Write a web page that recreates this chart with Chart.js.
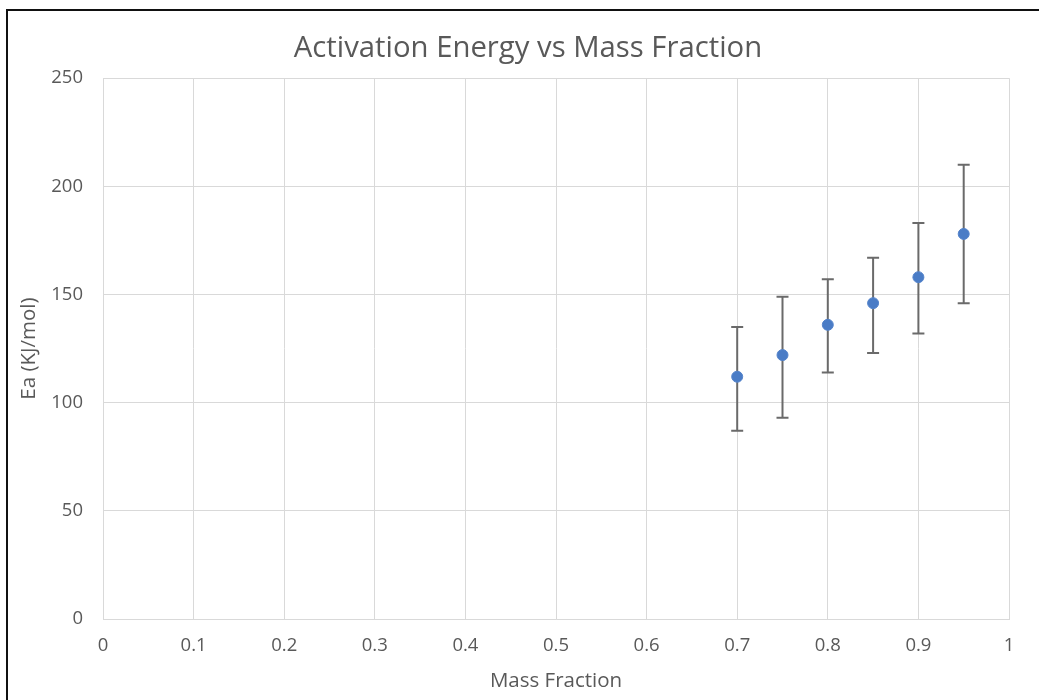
<!DOCTYPE html>
<html>
<head>
<meta charset="utf-8">
<script src="https://cdn.jsdelivr.net/npm/chart.js@4.4.1/dist/chart.umd.min.js"></script>
<style>
  html, body { margin: 0; padding: 0; background: #fff; }
  #wrap { position: relative; width: 1039px; height: 700px; overflow: hidden; }
  #frame { position: absolute; left: 6px; top: 9px; right: -10px; bottom: -10px; border-left: 2px solid #111; border-top: 2px solid #111; pointer-events: none; }
  canvas { position: absolute; left: 0; top: 0; }
</style>
</head>
<body>
<div id="wrap">
  <canvas id="chart" width="1039" height="700"></canvas>
  <div id="frame"></div>
</div>
<script>
  const massFraction = [0.7, 0.75, 0.8, 0.85, 0.9, 0.95];
  const ea = [112, 122, 136, 146, 158, 178];
  const eaUpper = [135, 149, 157, 167, 183, 210];
  const eaLower = [87, 93, 114, 123, 132, 146];
  const xTicks = [0, 0.1, 0.2, 0.3, 0.4, 0.5, 0.6, 0.7, 0.8, 0.9, 1];
  const yTicks = [0, 50, 100, 150, 200, 250];

  const grey = "#595959";
  const font = "'Open Sans', sans-serif";

  // vertical error bars with caps, drawn under the markers
  const errorBars = {
    id: "errorBars",
    beforeDatasetsDraw(chart) {
      const { ctx, scales: { x, y } } = chart;
      ctx.save();
      ctx.strokeStyle = "#6a6a6a";
      ctx.lineWidth = 2;
      massFraction.forEach((m, i) => {
        const px = x.getPixelForValue(m);
        const top = y.getPixelForValue(eaUpper[i]);
        const bot = y.getPixelForValue(eaLower[i]);
        ctx.beginPath();
        ctx.moveTo(px, top); ctx.lineTo(px, bot);
        ctx.moveTo(px - 6, top); ctx.lineTo(px + 6, top);
        ctx.moveTo(px - 6, bot); ctx.lineTo(px + 6, bot);
        ctx.stroke();
      });
      ctx.restore();
    }
  };

  new Chart(document.getElementById("chart"), {
    type: "scatter",
    data: {
      datasets: [{
        data: massFraction.map((m, i) => ({ x: m, y: ea[i] })),
        backgroundColor: "#4a7cc6",
        borderColor: "#5584cb",
        borderWidth: 1,
        pointRadius: 5.5,
        pointHoverRadius: 5.5
      }]
    },
    options: {
      responsive: false,
      animation: false,
      layout: { padding: { left: 17, right: 0, top: 0, bottom: 6.7 } },
      plugins: {
        legend: { display: false },
        tooltip: { enabled: false },
        title: {
          display: true,
          text: "Activation Energy vs Mass Fraction",
          color: grey,
          font: { family: font, size: 29.3, weight: "normal" },
          padding: { top: 31, bottom: 12 }
        }
      },
      scales: {
        x: {
          type: "linear",
          min: 0, max: 1,
          afterBuildTicks: s => { s.ticks = xTicks.map(v => ({ value: v })); },
          afterFit: s => { s.height = 74.3; },
          ticks: {
            color: grey, padding: 16,
            font: { family: font, size: 18.5 },
            callback: v => String(+v.toFixed(2))
          },
          grid: { color: "#d9d9d9", lineWidth: 1, drawTicks: false },
          border: { color: "#d9d9d9" },
          title: {
            display: true, text: "Mass Fraction", color: grey,
            font: { family: font, size: 20.5 }, padding: 0
          }
        },
        y: {
          min: 0, max: 250,
          afterBuildTicks: s => { s.ticks = yTicks.map(v => ({ value: v })); },
          afterFit: s => { s.width = 86; },
          ticks: {
            color: grey, padding: 20,
            font: { family: font, size: 18.5 }
          },
          grid: { color: "#d9d9d9", lineWidth: 1, drawTicks: false },
          border: { color: "#d9d9d9" },
          title: {
            display: true, text: "Ea (KJ/mol)", color: grey,
            font: { family: font, size: 20.5 }, padding: 0
          }
        },
        // empty spacer on the right so the title centres over the whole frame
        yRight: {
          position: "right",
          min: 0, max: 250,
          afterFit: s => { s.width = 30; },
          ticks: { display: false },
          grid: { display: false, drawTicks: false },
          border: { display: false }
        }
      }
    },
    plugins: [errorBars]
  });
</script>
</body>
</html>
